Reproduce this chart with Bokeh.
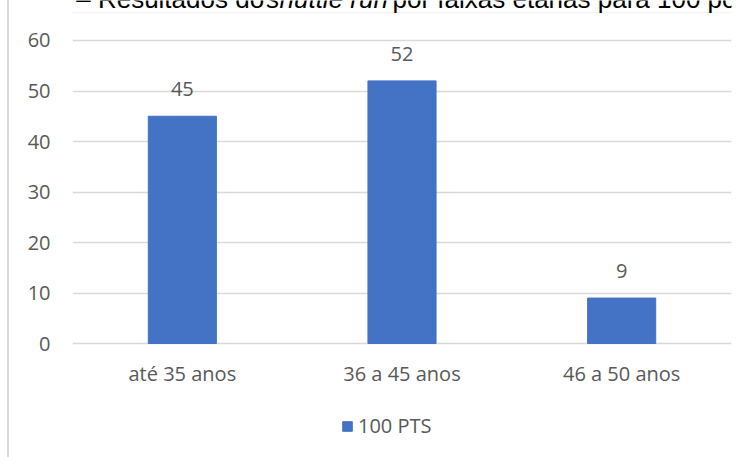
from bokeh.plotting import figure
from bokeh.models import (ColumnDataSource, FactorRange, FixedTicker, LabelSet, Label,
                          Legend, LegendItem, BoxAnnotation)
from bokeh.core.properties import value
from bokeh.embed import file_html
from bokeh.resources import INLINE

categories = ["até 35 anos", "36 a 45 anos", "46 a 50 anos"]
values = [45, 52, 9]
series_name = "100 PTS"
y_ticks = [0, 10, 20, 30, 40, 50, 60]
title_texts = ["Gráfico 2 – Resultados do", "shuttle run", "por faixas etárias para 100 pontos"]
title_styles = ["normal", "italic", "normal"]

FONT = "Open Sans"
GREY = "#595959"
BLUE = "#4472C4"
EDGE = "#d9d9d9"

src = ColumnDataSource(dict(cat=categories, val=values, base=[0] * len(values),
                            lbl=[str(v) for v in values]))

# the frame spans the full canvas height so that title, category labels and legend
# (drawn as annotations) are not clipped; the value axis keeps 0..60 at the same place
p = figure(x_range=FactorRange(*categories), y_range=(-22.57, 67.92),
           width=739, height=457, output_backend="svg", toolbar_location=None,
           min_border_left=63, min_border_right=17, min_border_top=0, min_border_bottom=0,
           styles={"margin-left": "7px", "border-left": f"2px solid {EDGE}"})
p.outline_line_color = None
p.background_fill_color = "white"
p.border_fill_color = "white"

r = p.vbar(x="cat", top="val", bottom="base", width=0.31, source=src,
           fill_color=BLUE, line_color=BLUE)

p.xaxis.visible = False
p.xgrid.grid_line_color = None
p.ygrid.grid_line_color = EDGE
p.ygrid.grid_line_width = 1.3
p.yaxis.ticker = FixedTicker(ticks=y_ticks)
p.yaxis.axis_line_color = None
p.yaxis.major_tick_line_color = None
p.yaxis.minor_tick_line_color = None
p.yaxis.major_tick_out = 0
p.yaxis.major_tick_in = 0
p.yaxis.major_label_text_font = FONT
p.yaxis.major_label_text_font_size = "20px"
p.yaxis.major_label_text_color = GREY
p.yaxis.major_label_standoff = 22

# value labels above the bars
p.add_layout(LabelSet(x="cat", y="val", text="lbl", source=src, y_offset=20,
                      text_align="center", text_baseline="alphabetic",
                      text_font=value(FONT), text_font_size=value("20px"),
                      text_color=GREY))
# category labels under the baseline
p.add_layout(LabelSet(x="cat", y="base", text="cat", source=src, y_offset=-37,
                      text_align="center", text_baseline="alphabetic",
                      text_font=value(FONT), text_font_size=value("20px"),
                      text_color=GREY))

legend = Legend(items=[LegendItem(label=series_name, renderers=[r])],
                location=(269, 18), orientation="horizontal",
                glyph_width=12, glyph_height=12, padding=0, margin=0, spacing=0,
                label_standoff=5, border_line_color=None, background_fill_alpha=0,
                label_text_font=FONT, label_text_font_size="20px", label_text_color=GREY)
p.add_layout(legend, "center")

# chart-area border (top edge)
p.add_layout(BoxAnnotation(left=-5, right=900, top=12, bottom=900,
                           left_units="canvas", right_units="canvas",
                           top_units="canvas", bottom_units="canvas",
                           fill_alpha=0, line_color=EDGE, line_width=1.5))

# title, cut at the top edge as in the reference
for txt, style, xpos in zip(title_texts, title_styles, [-48, 255, 381]):
    p.add_layout(Label(x=xpos, y=-2, x_units="canvas", y_units="canvas", text=txt,
                       text_font="Liberation Sans", text_font_size="26px",
                       text_font_style=style, text_color="black",
                       text_baseline="alphabetic"))

open("out.html", "w").write(file_html(p, INLINE))
